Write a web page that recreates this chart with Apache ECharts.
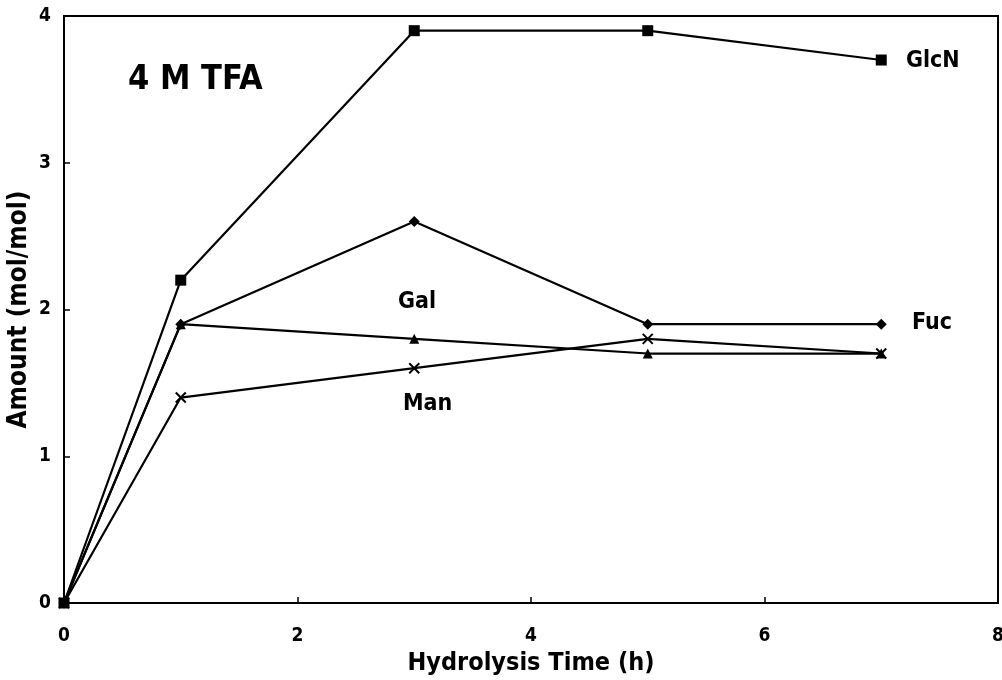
<!DOCTYPE html>
<html>
<head>
<meta charset="utf-8">
<script src="https://cdn.jsdelivr.net/npm/echarts@6/dist/echarts.min.js"></script>
<style>html,body{margin:0;padding:0;background:#fff}#c{width:1002px;height:680px}</style>
</head>
<body>
<div id="c"></div>
<script>
var hours = [0, 1, 3, 5, 7];
var glcN = [0, 2.2, 3.9, 3.9, 3.7];
var fuc = [0, 1.9, 2.6, 1.9, 1.9];
var gal = [0, 1.9, 1.8, 1.7, 1.7];
var man = [0, 1.4, 1.6, 1.8, 1.7];

var FONT = '"Liberation Sans Narrow", "DejaVu Sans Condensed", sans-serif';

function pairs(xs, ys) { return xs.map(function (x, i) { return [x, ys[i]]; }); }

var chart = echarts.init(document.getElementById('c'), null, {renderer: 'canvas'});

function ser(name, data, symbol, size, extra) {
  var s = {
    name: name, type: 'line', data: pairs(hours, data),
    symbol: symbol, symbolSize: size, showAllSymbol: true,
    lineStyle: {color: '#000', width: 2.2},
    itemStyle: {color: '#000'},
    clip: false, animation: false, z: 3
  };
  if (extra) for (var k in extra) s[k] = extra[k];
  return s;
}

var label = function (text, left, top, size) {
  return {type: 'text', left: left, top: top, z: 10,
    style: {text: text, fill: '#000', font: 'bold ' + size + 'px ' + FONT}};
};

chart.setOption({
  backgroundColor: '#fff',
  animation: false,
  grid: {left: 64, top: 16, right: 4, bottom: 77, outerBoundsMode: 'none', containLabel: false,
    show: true, borderColor: '#000', borderWidth: 2, backgroundColor: 'transparent'},
  xAxis: {
    type: 'value', min: 0, max: 8, interval: 2,
    name: 'Hydrolysis Time (h)', nameLocation: 'middle', nameGap: 48, nameMoveOverlap: false,
    nameTextStyle: {fontFamily: FONT, fontWeight: 'bold', fontSize: 25, color: '#000'},
    axisLine: {show: true, lineStyle: {color: '#000', width: 2}},
    axisTick: {show: true, inside: true, length: 6, lineStyle: {color: '#000', width: 1.5}},
    axisLabel: {margin: 24, fontFamily: FONT, fontWeight: 'bold', fontSize: 19, color: '#000'},
    splitLine: {show: false}
  },
  yAxis: {
    type: 'value', min: 0, max: 4, interval: 1,
    name: 'Amount (mol/mol)', nameLocation: 'middle', nameGap: 32, nameMoveOverlap: false,
    nameTextStyle: {fontFamily: FONT, fontWeight: 'bold', fontSize: 26, color: '#000'},
    axisLine: {show: true, lineStyle: {color: '#000', width: 2}},
    axisTick: {show: true, inside: true, length: 6, lineStyle: {color: '#000', width: 1.5}},
    axisLabel: {margin: 13, fontFamily: FONT, fontWeight: 'bold', fontSize: 19, color: '#000'},
    splitLine: {show: false}
  },
  series: [
    ser('Man', man, 'path://M0,0L10,10M10,0L0,10', 10, {itemStyle: {color: 'none', borderColor: '#000', borderWidth: 2}}),
    ser('Gal', gal, 'triangle', 10),
    ser('Fuc', fuc, 'diamond', 11),
    ser('GlcN', glcN, 'rect', 11)
  ],
  graphic: [
    label('4 M TFA', 128, 63, 34),
    label('GlcN', 906, 50, 23),
    label('Fuc', 912, 312, 23),
    label('Gal', 398, 291, 23),
    label('Man', 403, 393, 23)
  ]
});
</script>
</body>
</html>
